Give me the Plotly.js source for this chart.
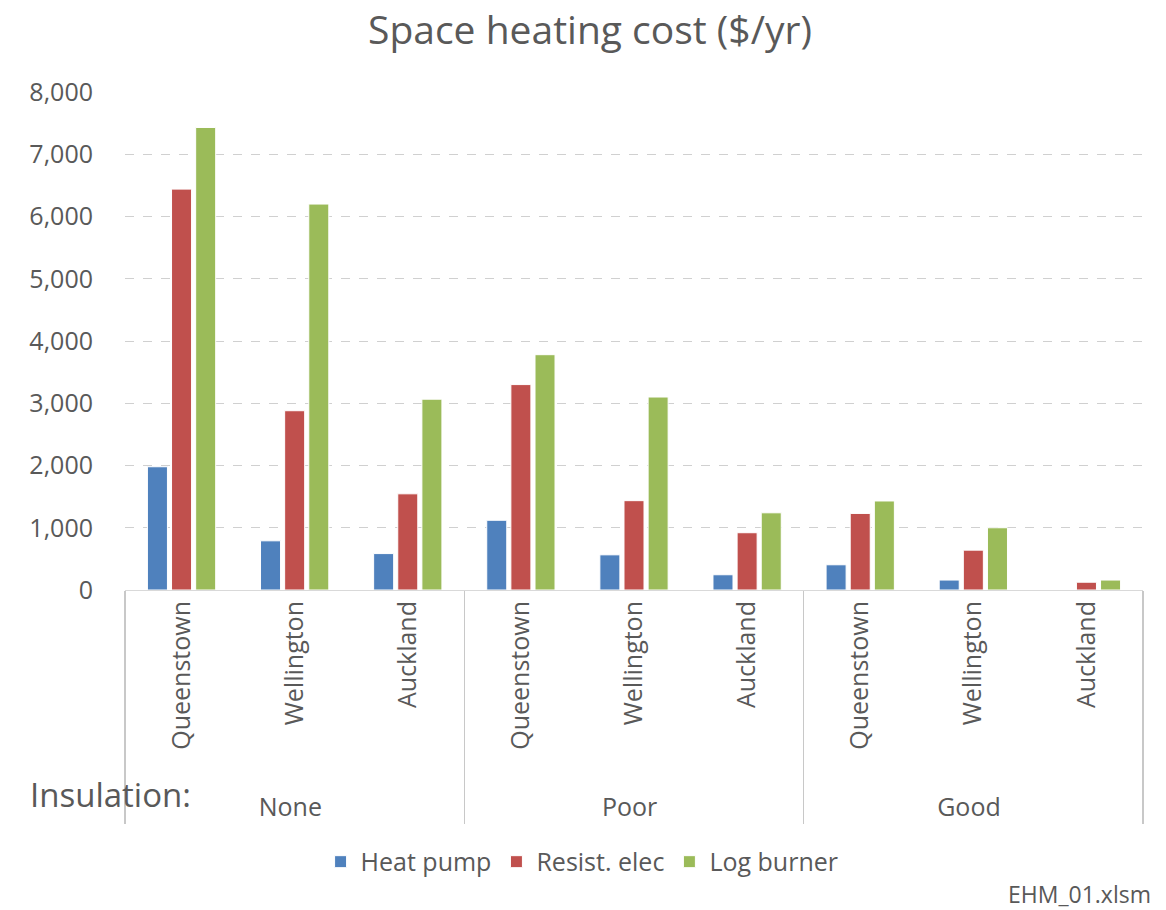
<!DOCTYPE html>
<html>
<head>
<meta charset="utf-8">
<script src="https://cdn.plot.ly/plotly-3.0.1.min.js"></script>
<style>
html,body{margin:0;padding:0;background:#fff;}
#chart{width:1166px;height:910px;}
</style>
</head>
<body>
<div id="chart"></div>
<script>
const insulation = ["None","None","None","Poor","Poor","Poor","Good","Good","Good"];
const cities = ["Queenstown","Wellington","Auckland","Queenstown","Wellington","Auckland","Queenstown","Wellington","Auckland"];
const heatPump   = [1980, 790, 585, 1120, 565, 245, 405, 160, 0];
const resistElec = [6440, 2880, 1545, 3300, 1435, 920, 1230, 640, 125];
const logBurner  = [7430, 6200, 3065, 3780, 3100, 1240, 1430, 1000, 160];
const seriesNames = ["Heat pump","Resist. elec","Log burner"];
const colors = ["#4F81BD","#C0504D","#9BBB59"];

const FONT = "'Open Sans', Lato, sans-serif";
const GREY = "#595959";

const vals = [heatPump, resistElec, logBurner];
const traces = vals.map((v,i)=>({
  type:"bar",
  name: seriesNames[i],
  x:[insulation, cities],
  y:v,
  marker:{color:colors[i], line:{color:"#ffffff", width:1}},
  hoverinfo:"y"
}));

const layout = {
  width:1166, height:910,
  margin:{l:125, r:23, t:92, b:320},
  paper_bgcolor:"#fff", plot_bgcolor:"#fff",
  font:{family:FONT, color:GREY, size:20},
  title:{text:"Space heating cost ($/yr)", x:0.506, xanchor:"center", y:0.967, yanchor:"middle",
         font:{family:FONT, size:39, color:GREY}},
  barmode:"group",
  bargap:0.36,
  bargroupgap:0.17,
  showlegend:true,
  legend:{orientation:"h", x:0.449, xanchor:"center", y:-0.546, yanchor:"middle",
          font:{family:FONT, size:25, color:GREY}, itemwidth:30, traceorder:"normal"},
  xaxis:{type:"multicategory", tickangle:-90, showgrid:false, showline:true, linecolor:"#d9d9d9",
         ticks:"", tickfont:{family:FONT, size:25, color:GREY}, tickprefix:"\u00a0\u00a0\u00a0",
         showdividers:true, dividercolor:"#c8c8c8", dividerwidth:1.5},
  yaxis:{range:[0,8000], tickvals:[0,1000,2000,3000,4000,5000,6000,7000,8000],
         tickformat:",d", showgrid:true, gridcolor:"#d0d0d0", griddash:"dash", gridwidth:1,
         zeroline:false, showline:false, ticks:"", ticklabelstandoff:31,
         tickfont:{family:FONT, size:25, color:GREY}},
  annotations:[
    {text:"Insulation:", xref:"paper", yref:"paper", x:-0.095, y:-0.41, xanchor:"left", yanchor:"middle",
     showarrow:false, font:{family:FONT, size:33, color:GREY}},
    {text:"EHM_01.xlsm", xref:"paper", yref:"paper", x:1.01, y:-0.61, xanchor:"right", yanchor:"middle",
     showarrow:false, font:{family:FONT, size:23, color:GREY}}
  ]
};

Plotly.newPlot("chart", traces, layout, {displayModeBar:false, staticPlot:true});
</script>
</body>
</html>
